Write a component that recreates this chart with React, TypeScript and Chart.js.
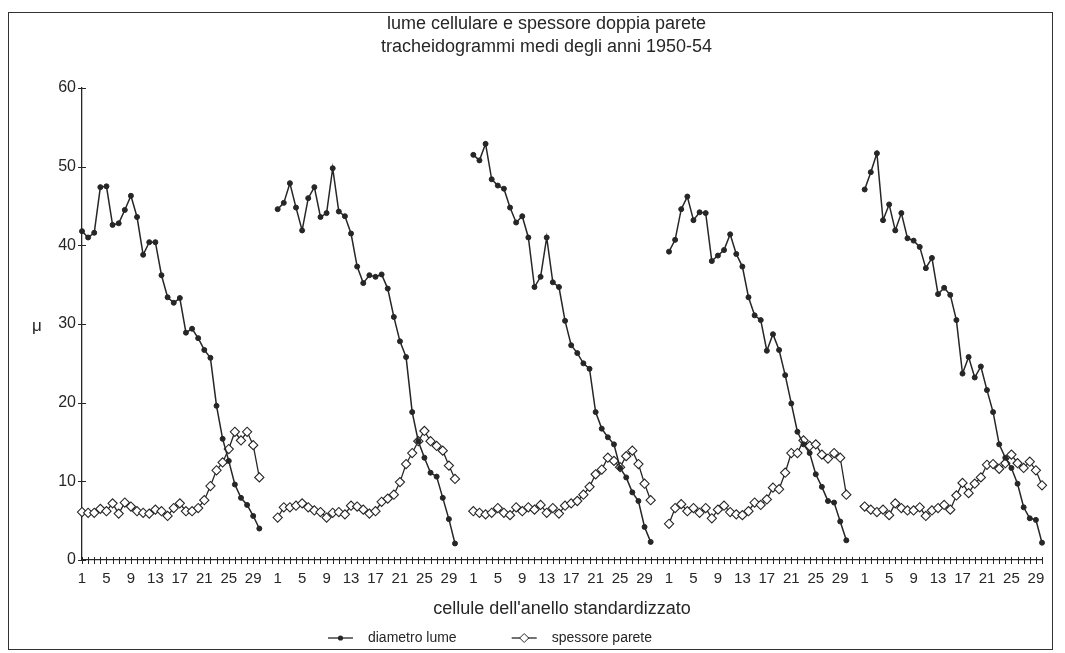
import React, { useEffect, useRef } from 'react';
import { Chart, registerables } from 'chart.js';

Chart.register(...registerables);

const FONT = "'Liberation Sans Narrow', 'Arial Narrow', 'Liberation Sans', Arial, sans-serif";
const INK = '#262626';

const titleLines = ['lume cellulare e spessore doppia parete', 'tracheidogrammi medi degli anni 1950-54'];
const xAxisTitle = "cellule dell'anello standardizzato";
const yAxisTitle = 'μ';
const seriesNames = ['diametro lume', 'spessore parete'];

const cells = ['1', '2', '3', '4', '5', '6', '7', '8', '9', '10', '11', '12', '13', '14', '15',
  '16', '17', '18', '19', '20', '21', '22', '23', '24', '25', '26', '27', '28', '29', '30'];
const tickCells = ['1', '5', '9', '13', '17', '21', '25', '29'];
const gapSlots = ['', ''];
const yMin = 0;
const yMax = 60;
const yStep = 10;

// diametro lume (µ), one array per year
const lume1950 = [41.8, 41.0, 41.6, 47.4, 47.5, 42.6, 42.8, 44.5, 46.3, 43.6, 38.8, 40.4, 40.4, 36.2, 33.4,
  32.7, 33.3, 28.9, 29.4, 28.2, 26.7, 25.7, 19.6, 15.4, 12.6, 9.6, 7.9, 7.0, 5.6, 4.0];
const lume1951 = [44.6, 45.4, 47.9, 44.8, 41.9, 46.0, 47.4, 43.6, 44.1, 49.8, 44.3, 43.7, 41.5, 37.3, 35.2,
  36.2, 36.0, 36.3, 34.5, 30.9, 27.8, 25.8, 18.8, 15.1, 13.0, 11.1, 10.6, 7.9, 5.2, 2.1];
const lume1952 = [51.5, 50.8, 52.9, 48.4, 47.6, 47.2, 44.8, 42.9, 43.7, 41.0, 34.7, 36.0, 41.0, 35.3, 34.7,
  30.4, 27.3, 26.3, 25.0, 24.3, 18.8, 16.7, 15.6, 14.7, 11.7, 10.5, 8.6, 7.5, 4.2, 2.3];
const lume1953 = [39.2, 40.7, 44.6, 46.2, 43.2, 44.2, 44.1, 38.0, 38.7, 39.4, 41.4, 38.9, 37.3, 33.4, 31.1,
  30.5, 26.6, 28.7, 26.7, 23.5, 19.9, 16.3, 14.7, 13.6, 10.9, 9.3, 7.5, 7.3, 4.9, 2.5];
const lume1954 = [47.1, 49.3, 51.7, 43.2, 45.2, 41.9, 44.1, 40.9, 40.6, 39.8, 37.1, 38.4, 33.8, 34.6, 33.7,
  30.5, 23.7, 25.8, 23.2, 24.6, 21.6, 18.8, 14.7, 13.0, 11.7, 9.7, 6.7, 5.3, 5.1, 2.2];

// spessore doppia parete (µ), one array per year
const parete1950 = [6.1, 6.0, 6.0, 6.5, 6.2, 7.2, 5.9, 7.3, 6.8, 6.2, 6.0, 5.9, 6.4, 6.2, 5.6,
  6.6, 7.2, 6.2, 6.2, 6.6, 7.6, 9.4, 11.4, 12.4, 14.1, 16.3, 15.2, 16.3, 14.6, 10.5];
const parete1951 = [5.4, 6.7, 6.7, 6.9, 7.2, 6.7, 6.3, 6.1, 5.4, 6.0, 6.1, 5.8, 6.9, 6.8, 6.4,
  5.9, 6.2, 7.4, 7.8, 8.3, 9.9, 12.2, 13.6, 15.1, 16.4, 15.1, 14.5, 13.9, 12.0, 10.3];
const parete1952 = [6.2, 6.0, 5.8, 6.0, 6.6, 6.0, 5.7, 6.7, 6.2, 6.7, 6.4, 7.0, 6.0, 6.6, 5.9,
  6.9, 7.2, 7.5, 8.3, 9.3, 10.9, 11.5, 13.0, 12.6, 11.8, 13.2, 13.9, 12.2, 9.7, 7.6];
const parete1953 = [4.6, 6.6, 7.1, 6.2, 6.6, 6.0, 6.6, 5.3, 6.4, 6.9, 6.1, 5.8, 5.7, 6.2, 7.3,
  7.0, 7.7, 9.2, 9.0, 11.1, 13.6, 13.6, 15.2, 14.5, 14.7, 13.4, 12.9, 13.6, 13.0, 8.3];
const parete1954 = [6.8, 6.4, 6.1, 6.4, 5.7, 7.2, 6.6, 6.3, 6.3, 6.7, 5.6, 6.3, 6.6, 7.0, 6.4,
  8.2, 9.8, 8.5, 9.7, 10.5, 12.1, 12.2, 11.6, 12.3, 13.4, 12.3, 11.7, 12.5, 11.4, 9.5];

const lumeYears = [lume1950, lume1951, lume1952, lume1953, lume1954];
const pareteYears = [parete1950, parete1951, parete1952, parete1953, parete1954];

function buildLabels(): string[] {
  const out: string[] = [];
  lumeYears.forEach((_, gi) => {
    cells.forEach((c) => out.push(c));
    if (gi < lumeYears.length - 1) gapSlots.forEach((g) => out.push(g));
  });
  return out;
}

function buildSeries(groups: number[][]): (number | null)[] {
  const out: (number | null)[] = [];
  groups.forEach((g, gi) => {
    g.forEach((v) => out.push(v));
    if (gi < groups.length - 1) gapSlots.forEach(() => out.push(null));
  });
  return out;
}

const SYMBOL_BOX = 86;

function legendSymbol(kind: 'dot' | 'diamond'): HTMLCanvasElement {
  const c = document.createElement('canvas');
  c.width = SYMBOL_BOX;
  c.height = 14;
  const g = c.getContext('2d') as CanvasRenderingContext2D;
  const x0 = 53;
  const x1 = 78;
  const cx = (x0 + x1) / 2;
  g.strokeStyle = INK;
  g.lineWidth = 1.3;
  g.beginPath();
  g.moveTo(x0, 7);
  g.lineTo(x1, 7);
  g.stroke();
  if (kind === 'dot') {
    g.fillStyle = INK;
    g.beginPath();
    g.arc(cx, 7, 2.6, 0, Math.PI * 2);
    g.fill();
  } else {
    g.fillStyle = '#fff';
    g.lineWidth = 1;
    g.beginPath();
    g.moveTo(cx, 2.5);
    g.lineTo(cx + 4.5, 7);
    g.lineTo(cx, 11.5);
    g.lineTo(cx - 4.5, 7);
    g.closePath();
    g.fill();
    g.stroke();
  }
  return c;
}

const TITLE_SHIFT = 19;
const LEGEND_SHIFT = -64;

const boxShift = {
  id: 'boxShift',
  afterLayout(chart: any) {
    const t = chart.titleBlock;
    const l = chart.legend;
    if (t) { t.left += TITLE_SHIFT; t.right += TITLE_SHIFT; }
    if (l) { l.left += LEGEND_SHIFT; l.right += LEGEND_SHIFT; }
  },
};

const axisDecor = {
  id: 'axisDecor',
  afterDraw(chart: any) {
    const { ctx } = chart;
    const xs = chart.scales.x;
    const ys = chart.scales.y;
    ctx.save();
    ctx.strokeStyle = INK;
    ctx.lineWidth = 1;
    ctx.beginPath();
    xs.ticks.forEach((_: any, i: number) => {
      const px = Math.round(xs.getPixelForTick(i)) + 0.5;
      ctx.moveTo(px, xs.top - 3);
      ctx.lineTo(px, xs.top + 4);
    });
    ys.ticks.forEach((_: any, i: number) => {
      const py = Math.round(ys.getPixelForTick(i)) + 0.5;
      ctx.moveTo(ys.right - 4, py);
      ctx.lineTo(ys.right + 4, py);
    });
    ctx.stroke();
    ctx.fillStyle = INK;
    ctx.font = `17px ${FONT}`;
    ctx.textAlign = 'center';
    ctx.textBaseline = 'middle';
    ctx.fillText(yAxisTitle, 28, (chart.chartArea.top + chart.chartArea.bottom) / 2 + 2);
    ctx.restore();
  },
};

export default function App() {
  const ref = useRef<HTMLCanvasElement | null>(null);

  useEffect(() => {
    if (!ref.current) return;
    const symbols = [legendSymbol('dot'), legendSymbol('diamond')];
    const chart = new Chart(ref.current, {
      type: 'line',
      data: {
        labels: buildLabels(),
        datasets: [
          {
            label: seriesNames[0],
            data: buildSeries(lumeYears),
            borderColor: INK,
            borderWidth: 1.5,
            pointStyle: 'circle',
            pointRadius: 2.5,
            pointBackgroundColor: INK,
            pointBorderColor: INK,
            pointBorderWidth: 1,
            spanGaps: false,
            tension: 0,
            order: 0,
          },
          {
            label: seriesNames[1],
            data: buildSeries(pareteYears),
            borderColor: INK,
            borderWidth: 1.3,
            pointStyle: 'rectRot',
            pointRadius: 4.6,
            pointBackgroundColor: '#ffffff',
            pointBorderColor: INK,
            pointBorderWidth: 1.1,
            spanGaps: false,
            tension: 0,
            order: 1,
          },
        ],
      },
      options: {
        animation: false,
        responsive: true,
        maintainAspectRatio: false,
        layout: { padding: { left: 0, right: 6, top: 0, bottom: -6 } },
        plugins: {
          title: {
            display: true,
            text: titleLines,
            color: INK,
            font: { family: FONT, size: 18, weight: 'normal', lineHeight: 1.278 },
            padding: { top: 0, bottom: 29 },
          },
          legend: {
            display: true,
            position: 'bottom',
            labels: {
              usePointStyle: true,
              pointStyleWidth: SYMBOL_BOX,
              padding: 2,
              color: INK,
              font: { family: FONT, size: 14 },
              generateLabels: (ch: any) => {
                const base = (Chart.defaults as any).plugins.legend.labels.generateLabels(ch);
                return base.map((item: any, i: number) => ({ ...item, pointStyle: symbols[i], fontColor: INK }));
              },
            },
          },
          tooltip: { enabled: false },
        },
        scales: {
          x: {
            type: 'category',
            offset: false,
            grid: { display: false, drawTicks: false },
            border: { display: true, color: INK, width: 1.3 },
            ticks: {
              autoSkip: false,
              maxRotation: 0,
              minRotation: 0,
              padding: 10,
              color: INK,
              font: { family: FONT, size: 15 },
              callback: function (this: any, value: any) {
                const l = this.getLabelForValue(value);
                return tickCells.includes(l) ? l : '';
              },
            },
            title: {
              display: true,
              text: xAxisTitle,
              color: INK,
              font: { family: FONT, size: 18 },
              padding: { top: 4, bottom: 9 },
            },
            afterFit: (s: any) => { s.height = 69; },
          },
          y: {
            min: yMin,
            max: yMax,
            grid: { display: false, drawTicks: false },
            border: { display: true, color: INK, width: 1.3 },
            ticks: {
              stepSize: yStep,
              padding: 6,
              color: INK,
              font: { family: FONT, size: 16 },
            },
            afterFit: (s: any) => { s.width = 73; },
          },
        },
      },
      plugins: [boxShift, axisDecor],
    });
    return () => chart.destroy();
  }, []);

  return (
    <div style={{ width: 1043, height: 636, border: '1px solid #333', marginTop: 4, position: 'relative', background: '#fff' }}>
      <canvas ref={ref} />
    </div>
  );
}
